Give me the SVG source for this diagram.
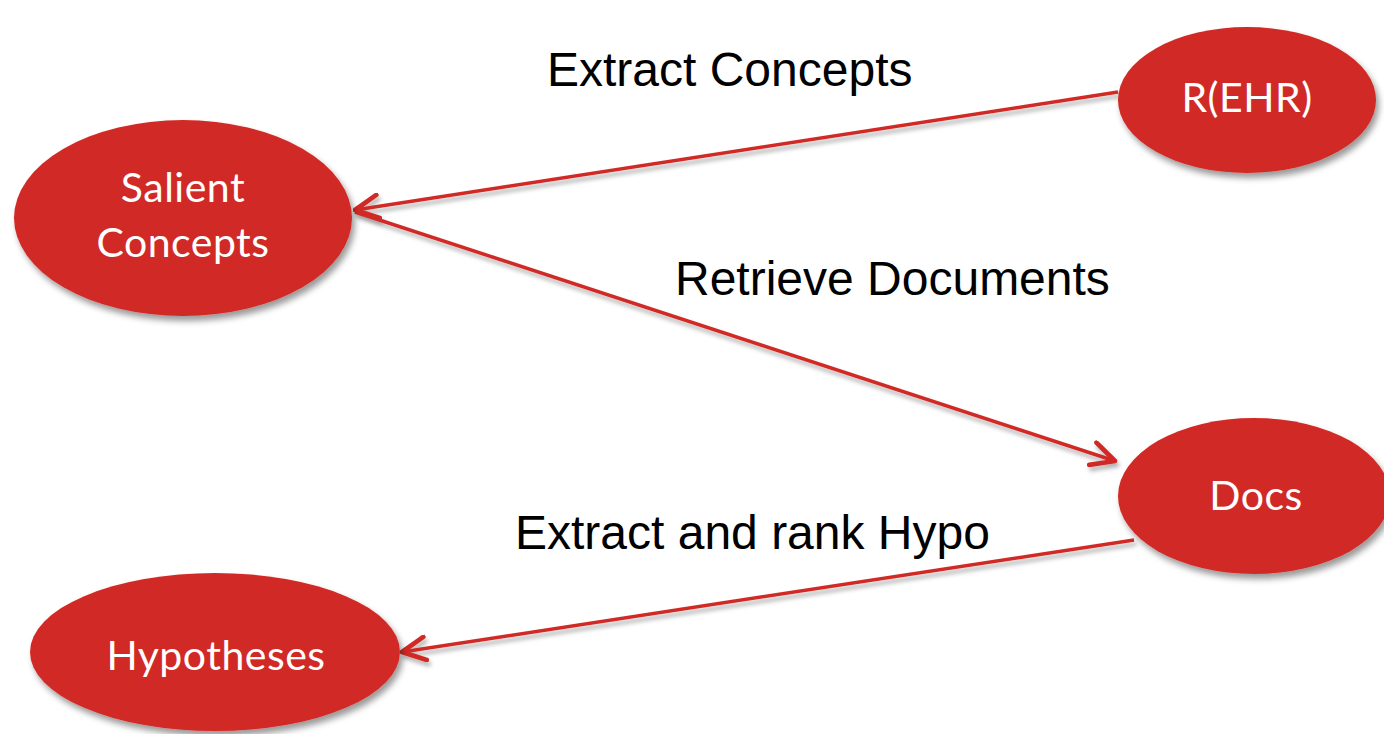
<svg xmlns="http://www.w3.org/2000/svg" width="1384" height="734" viewBox="0 0 1384 734">
<style>
.node{fill:#D12B25;filter:url(#sh);}
.nt{font-family:Lato,"Open Sans",sans-serif;font-size:41px;fill:#fff;text-anchor:middle;letter-spacing:0.5px;}
.lbl{font-family:"Liberation Sans",Arial,sans-serif;font-size:48px;fill:#000;}
.edge{stroke:#D12B25;stroke-width:3.5;fill:none;marker-end:url(#ah);filter:url(#lsh);}
</style>
<defs>
<filter id="sh" x="-20%" y="-20%" width="150%" height="150%">
<feDropShadow dx="3" dy="5" stdDeviation="3" flood-color="#000" flood-opacity="0.4"/>
</filter>
<filter id="lsh" x="-10%" y="-50%" width="120%" height="200%">
<feDropShadow dx="2" dy="4" stdDeviation="2" flood-color="#000" flood-opacity="0.3"/>
</filter>
<marker id="ah" viewBox="0 0 12 12" refX="11" refY="6" markerWidth="8" markerHeight="8" orient="auto" markerUnits="strokeWidth">
<path d="M1,1 L11,6 L1,11" fill="none" stroke="#D12B25" stroke-width="2" stroke-linecap="round" stroke-linejoin="round"/>
</marker>
</defs>
<rect width="1384" height="734" fill="#fff"/>
<g id="connectors">
<line class="edge" x1="1118" y1="92" x2="355" y2="210"/>
<line class="edge" x1="355" y1="212" x2="1115" y2="461"/>
<line class="edge" x1="1134" y1="540" x2="402" y2="652"/>
</g>
<g id="salient">
<ellipse class="node" cx="183" cy="218" rx="169" ry="98"/>
<text class="nt" x="183" y="202">Salient</text>
<text class="nt" x="183" y="257">Concepts</text>
</g>
<g id="rehr">
<ellipse class="node" cx="1247" cy="100" rx="129" ry="73"/>
<text class="nt" x="1247" y="112">R(EHR)</text>
</g>
<g id="docs">
<ellipse class="node" cx="1254" cy="496" rx="136" ry="78"/>
<text class="nt" x="1256" y="510">Docs</text>
</g>
<g id="hypotheses">
<ellipse class="node" cx="215" cy="652" rx="185" ry="79"/>
<text class="nt" x="216" y="670">Hypotheses</text>
</g>
<g id="labels">
<text class="lbl" x="547" y="86">Extract Concepts</text>
<text class="lbl" x="675" y="295">Retrieve Documents</text>
<text class="lbl" x="515" y="549">Extract and rank Hypo</text>
</g>
</svg>
